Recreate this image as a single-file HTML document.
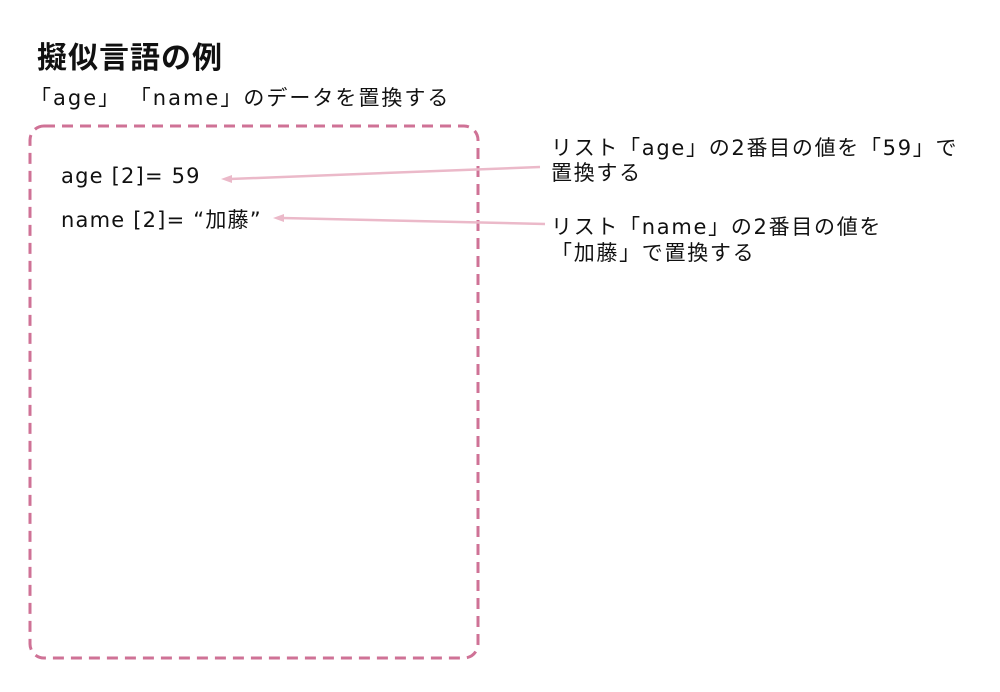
<!DOCTYPE html>
<html><head><meta charset="utf-8"><style>
body{margin:0;width:1000px;height:692px;background:#fff;position:relative;overflow:hidden;font-family:"DejaVu Sans","Noto Sans CJK JP",sans-serif;color:#111}
.t{position:absolute;white-space:nowrap}
</style></head><body>
<div class="t" style="left:37px;top:33px;font-size:30px;font-weight:bold;letter-spacing:1px;font-family:'Noto Sans CJK JP',sans-serif;">擬似言語の例</div>
<div class="t" style="left:30px;top:82px;font-size:21px;letter-spacing:2px;">「age」 「name」のデータを置換する</div>
<svg style="position:absolute;left:0;top:0" width="1000" height="692">
<rect x="30" y="126" width="448" height="532" rx="14" fill="none" stroke="#cf7296" stroke-width="3" stroke-dasharray="11,7"/>
<line x1="540" y1="167" x2="230" y2="179" stroke="#ebb9c9" stroke-width="2.5"/>
<polygon points="221,179 232,175 232,183" fill="#ebb9c9"/>
<line x1="545" y1="224" x2="282" y2="218" stroke="#ebb9c9" stroke-width="2.5"/>
<polygon points="273,218 284,214 284,222" fill="#ebb9c9"/>
</svg>
<div class="t" style="left:61px;top:164px;font-size:21px;letter-spacing:1.2px;">age [2]= 59</div>
<div class="t" style="left:61px;top:204px;font-size:21px;letter-spacing:1.2px;">name [2]= “加藤”</div>
<div class="t" style="left:551px;top:136px;font-size:21px;line-height:25px;letter-spacing:1.7px;">リスト「age」の2番目の値を「59」で<br>置換する</div>
<div class="t" style="left:551px;top:214px;font-size:21px;line-height:26px;letter-spacing:1.7px;">リスト「name」の2番目の値を<br>「加藤」で置換する</div>
</body></html>
